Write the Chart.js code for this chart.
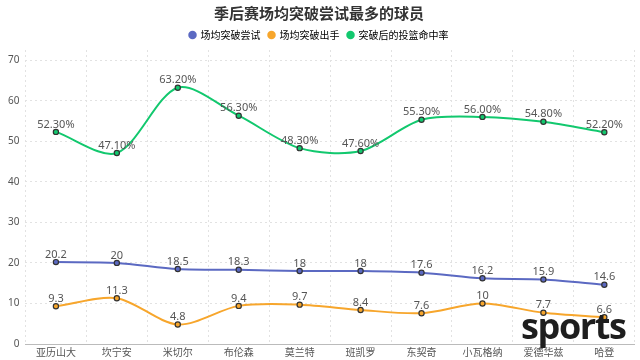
<!DOCTYPE html>
<html>
<head>
<meta charset="utf-8">
<script src="https://cdn.jsdelivr.net/npm/chart.js@4.4.1/dist/chart.umd.min.js"></script>
<style>
  html, body { margin: 0; padding: 0; background: #fff; }
  #wrap { position: relative; width: 640px; height: 360px; }
  #mark {
    position: absolute; left: 521px; top: 302px;
    font: bold 36px "Open Sans", "DejaVu Sans", sans-serif; color: #1e1e1e;
    letter-spacing: -1.4px; line-height: 48px;
  }
</style>
</head>
<body>
<div id="wrap">
  <canvas id="c" width="640" height="360"></canvas>
  <div id="mark">sports</div>
</div>
<script>
// players
const players = ['亚历山大', '坎宁安', '米切尔', '布伦森', '莫兰特', '班凯罗', '东契奇', '小瓦格纳', '爱德华兹', '哈登'];

// series values
const drivesPerGame = [20.2, 20, 18.5, 18.3, 18, 18, 17.6, 16.2, 15.9, 14.6];
const shotsPerGame = [9.3, 11.3, 4.8, 9.4, 9.7, 8.4, 7.6, 10, 7.7, 6.6];
const fgPct = [52.3, 47.1, 63.2, 56.3, 48.3, 47.6, 55.3, 56.0, 54.8, 52.2];

const seriesNames = ['场均突破尝试', '场均突破出手', '突破后的投篮命中率'];
const seriesColors = ['#5b69c2', '#f7a62c', '#12c86e'];
const yTicks = [0, 10, 20, 30, 40, 50, 60, 70];

// simple value labels above every point
const valueLabels = {
  id: 'valueLabels',
  afterDatasetsDraw(chart) {
    const ctx = chart.ctx;
    ctx.save();
    ctx.font = '11px "Noto Sans", "DejaVu Sans", sans-serif';
    ctx.fillStyle = '#555';
    ctx.textAlign = 'center';
    ctx.textBaseline = 'bottom';
    chart.data.datasets.forEach((ds, i) => {
      chart.getDatasetMeta(i).data.forEach((pt, j) => {
        const v = ds.data[j];
        const txt = i === 2 ? v.toFixed(2) + '%' : String(v);
        ctx.fillText(txt, pt.x, pt.y - 2);
      });
    });
    ctx.restore();
  }
};

function makeSet(label, data, color) {
  return {
    label: label,
    data: data,
    borderColor: color,
    backgroundColor: color,
    borderWidth: 2,
    tension: 0.3,
    pointRadius: 2.6,
    pointBorderWidth: 1.2,
    pointBorderColor: '#333',
    pointBackgroundColor: color
  };
}

const ctx = document.getElementById('c').getContext('2d');
new Chart(ctx, {
  type: 'line',
  data: {
    labels: players,
    datasets: [
      makeSet(seriesNames[0], drivesPerGame, seriesColors[0]),
      makeSet(seriesNames[1], shotsPerGame, seriesColors[1]),
      makeSet(seriesNames[2], fgPct, seriesColors[2])
    ]
  },
  options: {
    responsive: false,
    animation: false,
    layout: { padding: { left: 2, right: 4, bottom: 0, top: 4 } },
    plugins: {
      title: {
        display: true,
        text: '季后赛场均突破尝试最多的球员',
        color: '#333',
        font: { size: 15, weight: 'bold', family: '"Noto Sans CJK SC", sans-serif' },
        padding: { top: 0, bottom: 0 }
      },
      legend: {
        labels: {
          usePointStyle: true,
          pointStyle: 'circle',
          boxWidth: 6,
          boxHeight: 6,
          color: '#666',
          padding: 8,
          font: { size: 10, family: '"Noto Sans CJK SC", sans-serif' },
          generateLabels(chart) {
            return chart.data.datasets.map((ds, i) => ({
              text: ds.label,
              fillStyle: seriesColors[i],
              strokeStyle: seriesColors[i],
              lineWidth: 0,
              pointStyle: 'circle',
              datasetIndex: i
            }));
          }
        }
      },
      tooltip: { enabled: false }
    },
    scales: {
      x: {
        offset: true,
        grid: { offset: true, color: '#e2e2e2', lineWidth: 1, drawTicks: false },
        border: { display: true, color: '#bbb', dash: [2, 3] },
        ticks: { color: '#555', padding: 2, maxRotation: 0, autoSkip: false,
                 font: { size: 10, family: '"Noto Sans CJK SC", sans-serif' } }
      },
      y: {
        min: 0,
        max: 72.5,
        afterBuildTicks(scale) {
          scale.ticks = yTicks.map(v => ({ value: v }));
        },
        grid: { color: '#e2e2e2', drawTicks: false },
        border: { display: false, dash: [2, 3] },
        ticks: { color: '#555', padding: 6, font: { size: 10, family: '"Noto Sans", sans-serif' } }
      }
    }
  },
  plugins: [valueLabels]
});
</script>
</body>
</html>
